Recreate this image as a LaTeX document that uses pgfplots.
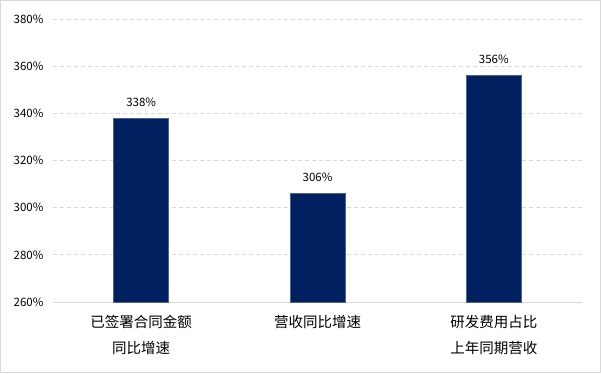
\documentclass[border=0pt]{standalone}
\usepackage{fontspec}
\setmainfont{Noto Sans CJK SC}
\usepackage{pgfplots}
\pgfplotsset{compat=1.18}
\definecolor{barblue}{HTML}{002060}
\definecolor{gridgray}{HTML}{D9D9D9}
\begin{document}
\begin{tikzpicture}
\path[use as bounding box] (0pt,0pt) rectangle (601pt,373pt);
\draw[gridgray,line width=1pt] (0.5pt,0.5pt) rectangle (600.5pt,372.5pt);
\begin{axis}[
  at={(53pt,71pt)}, anchor=south west,
  scale only axis, width=529pt, height=283pt,
  xmin=-0.5, xmax=2.5, ymin=260, ymax=380,
  ytick={260,280,...,380},
  xtick={0,1,2},
  xticklabels={{已签署合同金额\\同比增速},{营收同比增速},{研发费用占比\\上年同期营收}},
  xticklabel style={align=center, font=\fontsize{14.5}{26}\selectfont, yshift=-10pt},
  yticklabel={\pgfmathprintnumber{\tick}\%},
  yticklabel style={font=\fontsize{11.5}{13}\selectfont, xshift=-6pt},
  /pgf/number format/assume math mode=true,
  axis x line*=bottom,
  axis y line*=left,
  y axis line style={draw=none},
  x axis line style={gridgray, line width=1pt, -},
  major tick length=0pt,
  ymajorgrids,
  grid style={gridgray, dashed, dash pattern=on 4pt off 3pt, line width=0.8pt},
  ybar, bar width=55pt,
  nodes near coords={\pgfmathprintnumber{\pgfplotspointmeta}\%},
  nodes near coords style={font=\fontsize{11.5}{13}\selectfont, yshift=8pt},
  clip=false,
]
\addplot[fill=barblue, draw=barblue!70!white, line width=0.5pt] coordinates {(0,338) (1,306) (2,356)};
\end{axis}
\end{tikzpicture}
\end{document}
